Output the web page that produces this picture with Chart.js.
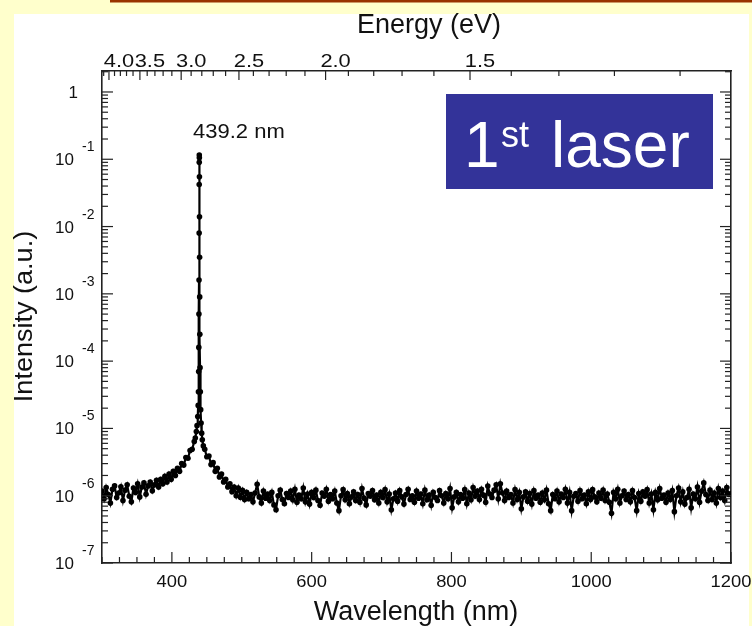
<!DOCTYPE html>
<html><head><meta charset="utf-8">
<script src="https://cdn.jsdelivr.net/npm/chart.js@4.4.1/dist/chart.umd.min.js"></script>
<style>html,body{margin:0;padding:0;background:#FFFFCC;overflow:hidden}canvas{display:block}</style>
</head><body>
<canvas id="c" width="752" height="626"></canvas>
<script>
// ---- data ----
const wavelengthBlue = [300,303,306,309,312,315,318,321,324,327,
  330,333,336,339,342,345,348,351,354,357,
  360,363,366,369,372,375,378,381,384,387,
  390,393,396,399,402,405,408,411,414,417,
  420,423,426,429,432];
const intensityBlue = [1.17e-6,0.90e-6,1.32e-6,1.04e-6,0.78e-6,1.25e-6,1.40e-6,0.94e-6,1.10e-6,1.36e-6,
  0.85e-6,1.21e-6,1.45e-6,0.98e-6,0.81e-6,1.30e-6,1.12e-6,1.50e-6,0.96e-6,1.35e-6,
  1.55e-6,1.05e-6,1.40e-6,1.60e-6,1.18e-6,1.45e-6,1.70e-6,1.35e-6,1.75e-6,1.50e-6,
  1.95e-6,1.60e-6,2.10e-6,1.75e-6,2.30e-6,2.00e-6,2.55e-6,2.30e-6,3.00e-6,2.85e-6,
  3.70e-6,3.60e-6,4.70e-6,4.90e-6,6.40e-6];
const wavelengthPeak = [433.5,435.0,436.0,437.0,437.6,438.0,438.3,438.5,438.7,438.85,439.0,439.1,439.15,439.2,439.3,439.4,439.5,439.65,439.8,440.0,440.3,440.7,441.2,441.8,442.6,443.5,445.0];
const intensityPeak = [7.2e-6,9.0e-6,1.1e-5,1.5e-5,2.2e-5,3.5e-5,7.0e-5,1.6e-4,5.0e-4,1.6e-3,8.0e-3,4.2e-2,9.0e-2,1.16e-1,1.05e-1,5.5e-2,1.4e-2,3.5e-3,9.0e-4,2.5e-4,8.0e-5,3.5e-5,1.9e-5,1.2e-5,8.5e-6,6.8e-6,5.5e-6];
const wavelengthRed = [447,450,453,456,459,462,465,468,471,474,477,480,483,486,489,492,495,498,501,504,507,
  510,513,516,519,522,525,528,531,534,537,
  540,543,546,549,552,555,558,561,564,567,
  570,573,576,579,582,585,588,591,594,597,
  600,603,606,609,612,615,618,621,624,627,
  630,633,636,639,642,645,648,651,654,657,
  660,663,666,669,672,675,678,681,684,687,
  690,693,696,699,702,705,708,711,714,717,
  720,723,726,729,732,735,738,741,744,747,
  750,753,756,759,762,765,768,771,774,777,
  780,783,786,789,792,795,798,801,804,807,
  810,813,816,819,822,825,828,831,834,837,
  840,843,846,849,852,855,858,861,864,867,
  870,873,876,879,882,885,888,891,894,897,
  900,903,906,909,912,915,918,921,924,927,
  930,933,936,939,942,945,948,951,954,957,
  960,963,966,969,972,975,978,981,984,987,
  990,993,996,999,1002,1005,1008,1011,1014,1017,
  1020,1023,1026,1029,1032,1035,1038,1041,1044,1047,
  1050,1053,1056,1059,1062,1065,1068,1071,1074,1077,
  1080,1083,1086,1089,1092,1095,1098,1101,1104,1107,
  1110,1113,1116,1119,1122,1125,1128,1131,1134,1137,
  1140,1143,1146,1149,1152,1155,1158,1161,1164,1167,
  1170,1173,1176,1179,1182,1185,1188,1191,1194,1197,
  1200];
const intensityRed = [4.9e-6,3.8e-6,3.9e-6,2.9e-6,3.1e-6,2.3e-6,2.55e-6,1.9e-6,2.1e-6,1.6e-6,1.75e-6,1.35e-6,1.5e-6,1.15e-6,1.35e-6,1.0e-6,1.3e-6,0.95e-6,1.2e-6,0.88e-6,1.12e-6,
  0.90e-6,1.04e-6,0.81e-6,1.10e-6,1.48e-6,0.96e-6,0.78e-6,1.17e-6,0.92e-6,1.06e-6,
  0.85e-6,1.12e-6,0.73e-6,0.62e-6,1.00e-6,1.21e-6,0.88e-6,0.76e-6,1.08e-6,0.94e-6,
  1.17e-6,0.87e-6,1.25e-6,0.80e-6,1.02e-6,0.90e-6,1.30e-6,0.81e-6,1.06e-6,0.75e-6,
  1.12e-6,0.94e-6,1.21e-6,0.85e-6,0.72e-6,1.10e-6,0.98e-6,1.25e-6,0.83e-6,1.04e-6,
  0.90e-6,1.17e-6,0.78e-6,0.60e-6,1.00e-6,1.23e-6,0.87e-6,1.08e-6,0.76e-6,0.96e-6,
  1.14e-6,0.85e-6,1.04e-6,0.80e-6,1.28e-6,0.92e-6,0.73e-6,1.08e-6,0.98e-6,1.19e-6,
  0.87e-6,1.02e-6,0.78e-6,1.12e-6,0.94e-6,1.23e-6,0.81e-6,1.06e-6,0.62e-6,0.90e-6,
  1.10e-6,0.83e-6,1.19e-6,0.96e-6,0.75e-6,1.04e-6,1.25e-6,0.88e-6,1.00e-6,0.80e-6,
  1.17e-6,0.92e-6,1.06e-6,0.76e-6,1.21e-6,0.87e-6,1.02e-6,0.72e-6,1.12e-6,0.94e-6,
  0.85e-6,1.19e-6,1.00e-6,0.78e-6,1.08e-6,0.90e-6,1.28e-6,0.66e-6,0.96e-6,1.12e-6,
  0.81e-6,1.04e-6,0.92e-6,1.23e-6,0.76e-6,1.10e-6,0.87e-6,1.32e-6,0.98e-6,1.17e-6,
  0.88e-6,1.25e-6,1.02e-6,0.80e-6,1.39e-6,1.06e-6,0.94e-6,1.21e-6,1.45e-6,0.90e-6,
  1.50e-6,1.10e-6,0.85e-6,1.17e-6,0.94e-6,1.04e-6,0.78e-6,1.23e-6,0.88e-6,1.12e-6,
  0.64e-6,0.96e-6,1.14e-6,0.83e-6,1.08e-6,0.75e-6,1.19e-6,0.92e-6,1.02e-6,0.80e-6,
  1.10e-6,0.87e-6,1.21e-6,0.76e-6,0.60e-6,1.04e-6,0.90e-6,1.17e-6,0.81e-6,1.06e-6,
  0.94e-6,1.25e-6,0.78e-6,1.12e-6,0.60e-6,0.98e-6,1.08e-6,0.83e-6,1.19e-6,0.90e-6,
  1.02e-6,0.76e-6,1.14e-6,0.88e-6,1.23e-6,0.96e-6,0.81e-6,1.10e-6,0.92e-6,1.21e-6,
  0.85e-6,1.06e-6,0.80e-6,0.55e-6,1.12e-6,0.90e-6,1.25e-6,0.78e-6,1.00e-6,1.17e-6,
  0.88e-6,1.04e-6,0.81e-6,1.19e-6,0.94e-6,0.60e-6,1.08e-6,0.83e-6,1.14e-6,0.98e-6,
  1.23e-6,0.78e-6,1.06e-6,0.62e-6,1.12e-6,0.87e-6,1.28e-6,0.92e-6,1.02e-6,0.80e-6,
  1.10e-6,0.88e-6,1.19e-6,0.58e-6,1.00e-6,1.30e-6,0.81e-6,1.14e-6,0.75e-6,0.94e-6,
  1.25e-6,0.66e-6,1.06e-6,0.90e-6,1.35e-6,0.80e-6,1.17e-6,1.55e-6,1.04e-6,0.85e-6,
  1.21e-6,0.88e-6,1.10e-6,0.78e-6,1.28e-6,0.94e-6,1.17e-6,0.85e-6,1.32e-6,1.04e-6,
  1.08e-6];
const wavelengthTickLabels = [400,600,800,1000,1200];
const energyTickLabels = [4.0,3.5,3.0,2.5,2.0,1.5];
const energyMinorTicks = [4.1,4.0,3.9,3.8,3.7,3.6,3.5,3.4,3.3,3.2,3.1,3.0,2.9,2.8,2.7,2.6,2.5,2.4,2.3,2.2,2.1,2.0,1.9,1.8,1.7,1.6,1.5,1.4,1.3,1.2,1.1];
const decadeExponents = [0,-1,-2,-3,-4,-5,-6,-7];
const peakLabel = '439.2 nm';
const HC = 1239.84; // eV*nm conversion for the top energy axis

// ---- build points ----
const pts = [];
[[wavelengthBlue,intensityBlue],[wavelengthPeak,intensityPeak],[wavelengthRed,intensityRed]].forEach(([w,v]) => {
  w.forEach((x,i) => pts.push({x:x, y:v[i]}));
});

const FONT = '"Liberation Sans", Arial, Helvetica, sans-serif';
function txt(ctx, s, x, y, size, align, sx, color) {
  ctx.save();
  ctx.font = size + 'px ' + FONT;
  ctx.fillStyle = color || '#111';
  ctx.textBaseline = 'alphabetic';
  ctx.textAlign = align || 'left';
  ctx.translate(x, y);
  ctx.scale(sx || 1, 1);
  ctx.fillText(s, 0, 0);
  ctx.restore();
}
function seg(ctx, x1, y1, x2, y2) { ctx.beginPath(); ctx.moveTo(x1, y1); ctx.lineTo(x2, y2); ctx.stroke(); }

const bgPlugin = {
  id: 'bg',
  beforeDraw(chart) {
    const ctx = chart.ctx;
    ctx.save();
    ctx.fillStyle = '#FFFFCC';
    ctx.fillRect(0, 0, 752, 626);
    ctx.fillStyle = '#993300';
    ctx.fillRect(110, 0, 642, 2.5);
    ctx.fillStyle = '#FFFFFF';
    ctx.fillRect(14, 14, 735, 612);
    ctx.restore();
  }
};

const framePlugin = {
  id: 'frame',
  afterDraw(chart) {
    const ctx = chart.ctx;
    const xs = chart.scales.x, ys = chart.scales.y;
    const a = chart.chartArea;
    ctx.save();
    ctx.strokeStyle = '#222';
    ctx.lineWidth = 1.2;
    // bottom ticks (inward)
    for (let w = 300; w <= 1200; w += 25) {
      const px = xs.getPixelForValue(w);
      const major = wavelengthTickLabels.includes(w);
      seg(ctx, px, a.bottom, px, a.bottom - (major ? 11 : 6));
    }
    // top ticks (energy)
    energyMinorTicks.forEach(e => {
      const px = xs.getPixelForValue(HC / e);
      const major = energyTickLabels.some(v => Math.abs(v - e) < 1e-6);
      seg(ctx, px, a.top, px, a.top + (major ? 9 : 5));
    });
    // left & right log ticks
    decadeExponents.forEach(n => {
      for (let k = 1; k <= 9; k++) {
        const v = k * Math.pow(10, n);
        if (v > ys.max * 1.0001 || v < ys.min * 0.9999) continue;
        const py = ys.getPixelForValue(v);
        const len = k === 1 ? 11 : 6;
        seg(ctx, a.left, py, a.left + len, py);
        seg(ctx, a.right, py, a.right - len, py);
      }
    });
    ctx.restore();

    // bottom tick labels
    wavelengthTickLabels.forEach(w => {
      txt(ctx, String(w), xs.getPixelForValue(w), 587, 17, 'center', 1.08);
    });
    // top tick labels
    energyTickLabels.forEach(e => {
      txt(ctx, e.toFixed(1), xs.getPixelForValue(HC / e) + 10, 67, 19, 'center', 1.15);
    });
    // left decade labels
    decadeExponents.forEach(n => {
      const py = ys.getPixelForValue(Math.pow(10, n));
      if (n === 0) {
        txt(ctx, '1', 78, py + 6, 17, 'right');
      } else {
        txt(ctx, '10', 74, py + 6, 17, 'right');
        txt(ctx, String(n), 82, py - 8, 14, 'left');
      }
    });
    // axis titles
    txt(ctx, 'Energy (eV)', 429, 33, 27, 'center');
    txt(ctx, 'Wavelength (nm)', 416, 620, 27, 'center');
    ctx.save();
    ctx.translate(32, 316.5);
    ctx.rotate(-Math.PI / 2);
    txt(ctx, 'Intensity (a.u.)', 0, 0, 26, 'center', 1.04);
    ctx.restore();
    // peak annotation
    txt(ctx, peakLabel, 193, 138, 20, 'left', 1.1);
    // "1st laser" box
    ctx.save();
    ctx.fillStyle = '#333399';
    ctx.fillRect(446, 94, 267, 95);
    ctx.restore();
    txt(ctx, '1', 464, 167, 64, 'left', 1, '#FFFFFF');
    txt(ctx, 'st', 501, 147, 36, 'left', 1, '#FFFFFF');
    txt(ctx, 'laser', 551, 167, 64, 'left', 1, '#FFFFFF');
  }
};

function zeroH(s) { s.height = 0; }
function zeroW(s) { s.width = 0; }
const border = { display: true, color: '#222', width: 1.6 };

new Chart(document.getElementById('c'), {
  type: 'line',
  data: {
    datasets: [{
      data: pts,
      borderColor: '#000',
      borderWidth: 2.2,
      pointRadius: 2.8,
      pointBackgroundColor: '#000',
      pointBorderWidth: 0,
      tension: 0,
      fill: false
    }]
  },
  options: {
    responsive: false,
    animation: false,
    devicePixelRatio: 1,
    layout: { padding: { left: 102, right: 21, top: 71, bottom: 63 }, autoPadding: false },
    plugins: { legend: { display: false }, tooltip: { enabled: false } },
    scales: {
      x: { type: 'linear', position: 'bottom', min: 300, max: 1200, ticks: { display: false }, grid: { display: false }, border: border, afterFit: zeroH },
      x2: { type: 'linear', position: 'top', min: 300, max: 1200, ticks: { display: false }, grid: { display: false }, border: border, afterFit: zeroH },
      y: { type: 'logarithmic', position: 'left', min: 1e-7, max: 2.05, ticks: { display: false }, grid: { display: false }, border: border, afterFit: zeroW },
      y2: { type: 'logarithmic', position: 'right', min: 1e-7, max: 2.05, ticks: { display: false }, grid: { display: false }, border: border, afterFit: zeroW }
    }
  },
  plugins: [bgPlugin, framePlugin]
});
</script>
</body></html>
